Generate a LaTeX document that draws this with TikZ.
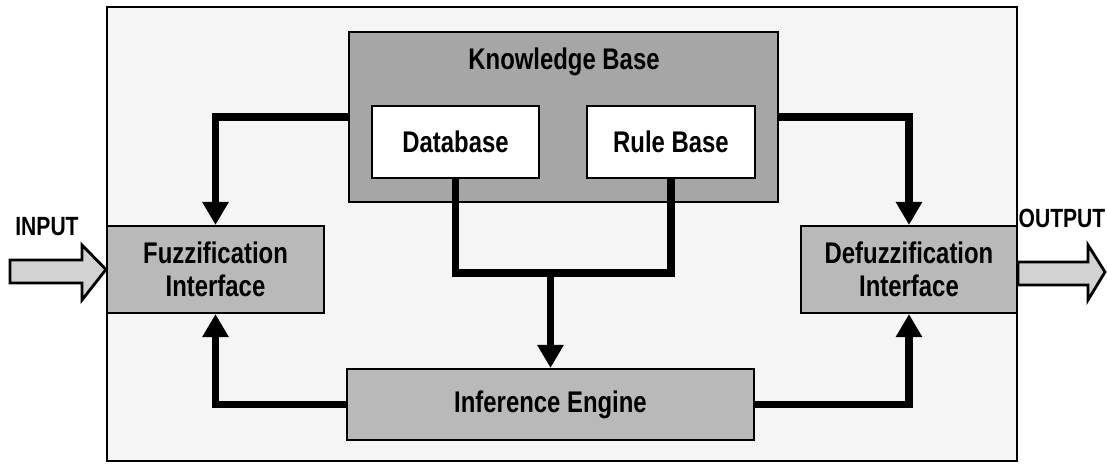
\documentclass[tikz,border=0pt]{standalone}
\usepackage{fontspec}
\newfontfamily\blockfont[FakeStretch=0.8]{Liberation Sans}
\usetikzlibrary{arrows.meta}

\tikzset{
  block/.style={draw, line width=1.2pt, inner sep=0pt, align=center,
    font=\blockfont\bfseries\fontsize{17}{19}\selectfont},
  flow/.style={line width=4.5pt, -{Triangle[length=0.46cm,width=0.5cm]}},
  link/.style={line width=4.5pt},
  bigarrow/.style={draw, line width=1.6pt, fill=gray!35, line join=miter},
  iolabel/.style={font=\blockfont\bfseries\fontsize{15}{17}\selectfont},
}

\begin{document}
\begin{tikzpicture}[x=0.02cm, y=-0.02cm]
        \useasboundingbox (0,0) rectangle (1107,464);
        \draw[line width=0.8pt, fill=gray!8] (107,7) rectangle (1017,461);

        % knowledge base with its two parts
        \node[block, fill=gray!70, minimum width=8.58cm, minimum height=3.4cm] (kb) at (563.5,117) {};
        \node[font=\blockfont\bfseries\fontsize{17}{19}\selectfont] (kbtitle) at (564,62) {Knowledge Base};
        \node[block, fill=white, minimum width=3.34cm, minimum height=1.44cm] (db) at (455.5,142) {Database};
        \node[block, fill=white, minimum width=3.36cm, minimum height=1.44cm] (rb) at (671,142) {Rule Base};

        \node[block, fill=gray!55, minimum width=4.34cm, minimum height=1.74cm] (fuzz) at (215.5,269.5) {Fuzzification\\Interface};
        \node[block, fill=gray!55, minimum width=4.32cm, minimum height=1.74cm] (defuzz) at (909,269.5) {Defuzzification\\Interface};
        \node[block, fill=gray!55, minimum width=8.14cm, minimum height=1.42cm] (ie) at (550.5,404.5) {Inference Engine};

        % connectors
        \draw[flow] (kb.west) -| (fuzz.north);
        \draw[flow] (kb.east) -| (defuzz.north);
        \coordinate (bus) at (550.5,273);
        \draw[link] (db.south) |- (bus) -| (rb.south);
        \draw[flow] (bus) -- (ie.north);
        \draw[flow] (ie.west) -| (fuzz.south);
        \draw[flow] (ie.east) -| (defuzz.south);

        % input and output
        \coordinate (inhead) at (fuzz.west);
        \draw[bigarrow] (10,260) -- (82,260) -- (82,245) -- (inhead) -- (82,300) -- (82,283) -- (10,283) -- cycle;
        \coordinate (outtail) at (defuzz.east);
        \draw[bigarrow] (outtail |- 0,262) -- (1088,262) -- (1088,245) -- (1105,272) -- (1088,300) -- (1088,285) -- (outtail |- 0,285) -- cycle;
        \node[iolabel] (inlabel) at (47,227) {INPUT};
        \node[iolabel] (outlabel) at (1062,218) {OUTPUT};
    \end{tikzpicture}
\end{document}
